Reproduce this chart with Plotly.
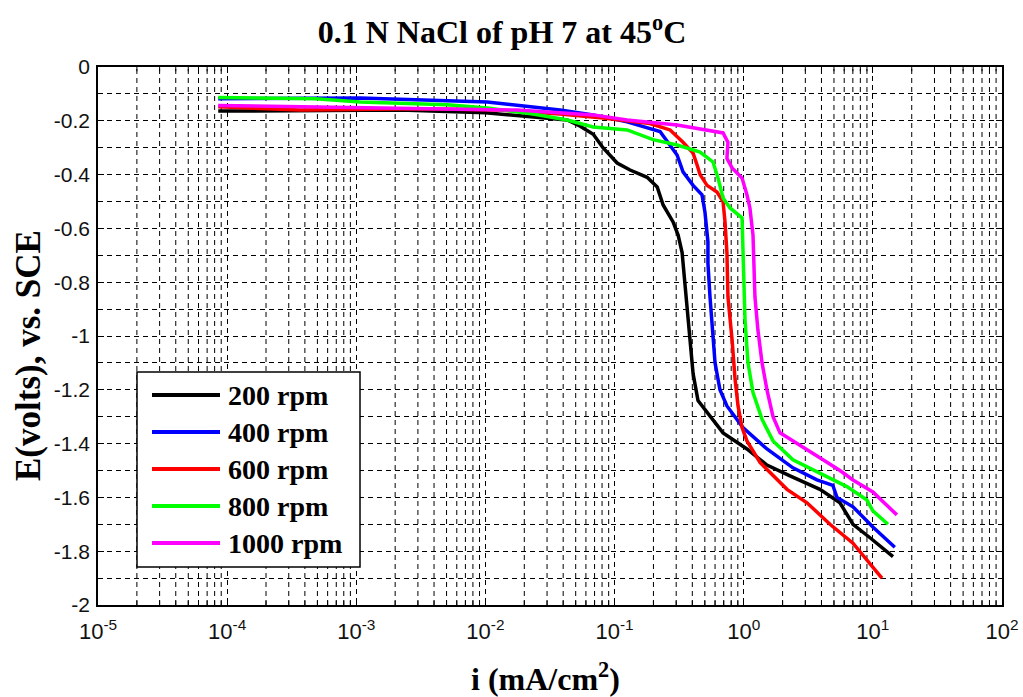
import plotly.graph_objects as go

# Polarization curves: log10 of current density (mA/cm^2) and potential E (V vs. SCE)
series_names = ["200 rpm", "400 rpm", "600 rpm", "800 rpm", "1000 rpm"]
series_colors = ["#000000", "#0000ff", "#ff0000", "#00ff00", "#ff00ff"]

log_i_200 = [-4.069, -2.66, -2.0, -1.576, -1.367, -1.266, -1.165, -1.09, -0.98, -0.88,
             -0.748, -0.67, -0.624, -0.547, -0.508, -0.477, -0.454, -0.416, -0.392, -0.354,
             -0.261, -0.16, 0.025, 0.18, 0.358, 0.59, 0.745, 0.846, 0.978, 1.156]
e_200 = [-0.164, -0.160, -0.17, -0.19, -0.197, -0.22, -0.25, -0.30, -0.357, -0.383,
         -0.41, -0.446, -0.513, -0.576, -0.625, -0.69, -0.82, -1.015, -1.14, -1.24,
         -1.30, -1.36, -1.42, -1.48, -1.52, -1.57, -1.62, -1.70, -1.75, -1.82]

log_i_400 = [-4.069, -2.97, -1.987, -1.422, -1.166, -0.903, -0.648, -0.57, -0.516, -0.47,
             -0.392, -0.323, -0.30, -0.277, -0.277, -0.261, -0.238, -0.222, -0.184, -0.13,
             -0.006, 0.18, 0.381, 0.567, 0.69, 0.722, 0.846, 1.0, 1.17]
e_400 = [-0.118, -0.115, -0.13, -0.16, -0.178, -0.204, -0.24, -0.29, -0.327, -0.39,
         -0.44, -0.475, -0.54, -0.65, -0.73, -0.855, -1.015, -1.10, -1.20, -1.26,
         -1.34, -1.42, -1.49, -1.535, -1.555, -1.60, -1.635, -1.71, -1.785]

log_i_600 = [-4.069, -3.434, -2.505, -1.886, -1.422, -1.09, -0.727, -0.57, -0.47, -0.392,
             -0.361, -0.338, -0.284, -0.207, -0.16, -0.145, -0.13, -0.122, -0.09, -0.067,
             -0.044, -0.013, 0.025, 0.126, 0.335, 0.49, 0.668, 0.846, 1.07]
e_600 = [-0.148, -0.16, -0.155, -0.16, -0.175, -0.19, -0.21, -0.234, -0.28, -0.32,
         -0.364, -0.40, -0.44, -0.465, -0.50, -0.576, -0.69, -0.855, -1.015, -1.16,
         -1.26, -1.34, -1.39, -1.47, -1.57, -1.62, -1.70, -1.77, -1.90]

log_i_800 = [-4.069, -3.318, -2.97, -2.296, -1.987, -1.631, -1.367, -1.166, -0.903, -0.702,
             -0.516, -0.338, -0.238, -0.199, -0.16, -0.106, -0.013, -0.006, -0.002, 0.01,
             0.033, 0.072, 0.142, 0.227, 0.381, 0.59, 0.799, 0.954, 1.0, 1.117]
e_800 = [-0.113, -0.118, -0.13, -0.14, -0.152, -0.175, -0.197, -0.223, -0.234, -0.27,
         -0.29, -0.316, -0.353, -0.413, -0.487, -0.524, -0.561, -0.69, -0.766, -0.94,
         -1.10, -1.21, -1.31, -1.39, -1.46, -1.51, -1.56, -1.61, -1.65, -1.70]

log_i_1000 = [-4.069, -2.97, -1.755, -1.166, -0.903, -0.516, -0.284, -0.16, -0.122, -0.13,
              -0.09, -0.013, 0.025, 0.048, 0.072, 0.075, 0.087, 0.11, 0.142, 0.18,
              0.227, 0.281, 0.436, 0.614, 0.745, 0.846, 1.0, 1.186]
e_1000 = [-0.143, -0.15, -0.16, -0.178, -0.197, -0.216, -0.234, -0.245, -0.28, -0.34,
          -0.375, -0.413, -0.475, -0.524, -0.625, -0.69, -0.855, -0.978, -1.10, -1.20,
          -1.30, -1.36, -1.405, -1.46, -1.50, -1.535, -1.58, -1.665]

x_tick_vals = [1e-5, 1e-4, 1e-3, 1e-2, 1e-1, 1e0, 1e1, 1e2]
x_tick_text = ["10<sup>-5</sup>", "10<sup>-4</sup>", "10<sup>-3</sup>", "10<sup>-2</sup>",
               "10<sup>-1</sup>", "10<sup>0</sup>", "10<sup>1</sup>", "10<sup>2</sup>"]
y_tick_vals = [0, -0.2, -0.4, -0.6, -0.8, -1, -1.2, -1.4, -1.6, -1.8, -2]
y_tick_text = ["0", "-0.2", "-0.4", "-0.6", "-0.8", "-1", "-1.2", "-1.4", "-1.6", "-1.8", "-2"]

curves = [(log_i_200, e_200), (log_i_400, e_400), (log_i_600, e_600),
          (log_i_800, e_800), (log_i_1000, e_1000)]

SERIF = "Liberation Serif, Times New Roman, serif"
SANS = "Liberation Sans, Arial, sans-serif"
GRID_DASH = "5px,4px"

fig = go.Figure()
for (log_i, e), name, color in zip(curves, series_names, series_colors):
    fig.add_trace(go.Scatter(
        x=[10 ** v for v in log_i], y=e, mode="lines", name=name,
        line=dict(color=color, width=3.5), showlegend=False,
    ))

fig.update_layout(
    width=1023, height=697,
    margin=dict(l=98, r=21, t=67, b=92, autoexpand=False),
    paper_bgcolor="white", plot_bgcolor="white",
    title=dict(text="<b>0.1 N NaCl of pH 7 at 45<sup>o</sup>C</b>",
               font=dict(family=SERIF, size=32, color="black"),
               x=502 / 1023, xref="container", xanchor="center",
               y=1 - 32 / 697, yref="container", yanchor="middle"),
)

fig.update_xaxes(
    type="log", range=[-5, 2], automargin=False,
    tickvals=x_tick_vals, ticktext=x_tick_text,
    tickfont=dict(family=SANS, size=22, color="#111111"),
    ticklabelstandoff=6,
    showline=True, linecolor="black", linewidth=1.5, mirror="allticks",
    ticks="inside", ticklen=6, tickcolor="black",
    showgrid=True, gridcolor="black", gridwidth=1, griddash=GRID_DASH,
    zeroline=False,
)
fig.update_yaxes(
    range=[-2, 0], automargin=False,
    tickvals=y_tick_vals, ticktext=y_tick_text,
    tickfont=dict(family=SANS, size=21, color="#111111"),
    ticklabelstandoff=2,
    showline=True, linecolor="black", linewidth=1.5, mirror="allticks",
    ticks="inside", ticklen=6, tickcolor="black",
    showgrid=True, gridcolor="black", gridwidth=1, griddash=GRID_DASH,
    minor=dict(dtick=0.1, showgrid=True, gridcolor="black", gridwidth=1,
               griddash=GRID_DASH, ticks="inside", ticklen=3, tickcolor="black"),
    zeroline=False,
)

# Minor logarithmic grid lines (2..9 within each decade)
for decade in range(-5, 2):
    for k in range(2, 10):
        xv = k * 10.0 ** decade
        fig.add_shape(type="line", xref="x", yref="paper", x0=xv, x1=xv, y0=0, y1=1,
                      line=dict(color="black", width=1, dash=GRID_DASH), layer="below")
        for y0, y1 in ((0, 0.008), (0.992, 1)):
            fig.add_shape(type="line", xref="x", yref="paper", x0=xv, x1=xv, y0=y0, y1=y1,
                          line=dict(color="black", width=1), layer="below")

# Axis titles
fig.add_annotation(text="<b>i (mA/cm<sup>2</sup>)</b>", xref="paper", yref="paper",
                   x=(545 - 98) / 904, y=-(677 - 605) / 538, showarrow=False,
                   xanchor="center", yanchor="middle",
                   font=dict(family=SERIF, size=32, color="black"))
fig.add_annotation(text="<b>E(volts), vs. SCE</b>", xref="paper", yref="paper",
                   x=-(98 - 28) / 904, y=(605 - 356) / 538, showarrow=False,
                   textangle=-90, xanchor="center", yanchor="middle",
                   font=dict(family=SERIF, size=35, color="black"))

# Legend box with long line samples
def px_x(p):
    return (p - 98) / 904

def px_y(p):
    return (605 - p) / 538

fig.add_shape(type="rect", xref="paper", yref="paper",
              x0=px_x(137), x1=px_x(360), y0=px_y(567), y1=px_y(372),
              line=dict(color="black", width=1.5), fillcolor="white", layer="above")
row_y = [395, 432, 469, 506, 543]
for name, color, ry in zip(series_names, series_colors, row_y):
    fig.add_shape(type="line", xref="paper", yref="paper",
                  x0=px_x(152), x1=px_x(220), y0=px_y(ry), y1=px_y(ry),
                  line=dict(color=color, width=4), layer="above")
    fig.add_annotation(text="<b>" + name + "</b>", xref="paper", yref="paper",
                       x=px_x(226), y=px_y(ry), showarrow=False,
                       xanchor="left", yanchor="middle",
                       font=dict(family=SERIF, size=28, color="black"))

fig.write_html("out.html")
